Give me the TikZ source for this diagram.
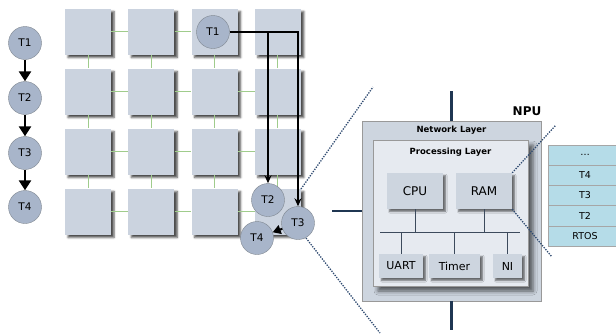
\documentclass[tikz,border=0pt]{standalone}
\usepackage{fontspec}
\setmainfont{DejaVu Sans}
\usetikzlibrary{arrows.meta,shadows.blur,positioning}
\definecolor{tilefill}{HTML}{CBD3DF}
\definecolor{taskfill}{HTML}{A8B5CA}
\definecolor{taskedge}{HTML}{7E8690}
\definecolor{linkgreen}{HTML}{A0CC8C}
\definecolor{navy}{HTML}{1F3652}
\definecolor{dotblue}{HTML}{2E4A70}
\definecolor{netfill}{HTML}{CDD5DF}
\definecolor{procfill}{HTML}{E6EAF0}
\definecolor{memfill}{HTML}{B5DCE8}
\definecolor{busline}{HTML}{3C4A5C}
\tikzset{%
  tile/.style={fill=tilefill, minimum size=46pt, inner sep=0pt,
    blur shadow={shadow xshift=3pt, shadow yshift=-3pt, shadow blur radius=2pt, shadow opacity=70}},
  link/.style={linkgreen, line width=1pt},
  task/.style={circle, draw=taskedge, fill=taskfill, minimum size=33pt, inner sep=0pt,
    font=\fontsize{10.5}{12}\selectfont},
  chain/.style={line width=2.8pt, -{Triangle[length=10pt,width=12pt]}},
  route/.style={line width=1.4pt, -{Stealth[length=8pt,width=7pt]}},
  zoomline/.style={dotblue, line width=1.3pt, dash pattern=on 1.3pt off 1.3pt},
  trunk/.style={navy, line width=2.8pt},
  unit/.style={fill=netfill, inner sep=0pt,
    blur shadow={shadow xshift=2.5pt, shadow yshift=-2.5pt, shadow blur radius=1.5pt, shadow opacity=55}},
  bus/.style={draw=busline, line width=0.9pt},
  memrow/.style={draw=gray!70, fill=memfill, minimum width=74pt, minimum height=20.2pt,
    inner sep=0pt, font=\fontsize{9.5}{11}\selectfont}
}

\begin{document}
\begin{tikzpicture}[x=1pt, y=-1pt]
  \useasboundingbox (0,0) rectangle (616,335);

  \foreach \i in {0,...,3}
    \foreach \j in {0,...,3}
      \node[tile] (sq-\i-\j) at ({88+63.3*\i},{31.5+60*\j}) {};
  \foreach \i [evaluate=\i as \k using int(\i+1)] in {0,1,2}
    \foreach \j in {0,...,3} {
      \draw[link] (sq-\i-\j.east) -- (sq-\k-\j.west);
      \draw[link] (sq-\j-\i.south) -- (sq-\j-\k.north);
    }

  \node[task] (c1) at (25,43) {T1};
  \node[task] (c2) at (25,98) {T2};
  \node[task] (c3) at (25,153) {T3};
  \node[task] (c4) at (25,207) {T4};
  \draw[chain] (c1) -- (c2);
  \draw[chain] (c2) -- (c3);
  \draw[chain] (c3) -- (c4);

  \coordinate (za) at (301,189);
  \coordinate (zb) at (373,87);
  \coordinate (zc) at (306,238);
  \coordinate (zd) at (380,333);
  \draw[zoomline] (za) -- (zb);
  \draw[zoomline] (zc) -- (zd);

  \node[task] (g1) at (213,32) {T1};
  \node[task] (g2) at (268,200) {T2};
  \node[task] (g3) at (298,223) {T3};
  \node[task] (g4) at (257,238) {T4};
  \draw[route] (g1.east) -| (g2.north);
  \draw[route] (g1.east) -| (g3.north);
  \draw[chain, line width=2pt, -{Triangle[length=8pt,width=9pt]}] (g3) -- (g4);

  \node[draw=gray!80, fill=netfill, minimum width=179pt, minimum height=180pt, inner sep=0pt] (nl) at (451.5,211) {};
  \node[font=\fontsize{8.5}{10}\bfseries] (nltitle) at (451.5,130) {Network Layer};
  \node[font=\fontsize{12}{14}\bfseries] (npu) at (527,111) {NPU};
  \coordinate (nu) at (451.5,91);
  \coordinate (nd) at (451.5,330);
  \coordinate (nw) at (332,211);
  \draw[trunk] (nl.north) -- (nu);
  \draw[trunk] (nl.south) -- (nd);
  \draw[trunk] (nl.west) -- (nw);

  \node[draw=gray!80, fill=procfill, minimum width=155pt, minimum height=146pt, inner sep=0pt,
    blur shadow={shadow xshift=5pt, shadow yshift=-5pt, shadow blur radius=4pt, shadow opacity=60}] (pl) at (450.5,213) {};
  \node[font=\fontsize{8.5}{10}\bfseries] (pltitle) at (450.5,152) {Processing Layer};

  \node[unit, minimum width=56pt, minimum height=36pt, font=\fontsize{12}{14}\selectfont] (cpu) at (415,191) {CPU};
  \node[unit, minimum width=56pt, minimum height=36pt, font=\fontsize{12}{14}\selectfont] (ram) at (484,191) {RAM};
  \node[unit, minimum width=44pt, minimum height=24pt, font=\fontsize{11}{13}\selectfont] (uart) at (401,266) {UART};
  \node[unit, minimum width=51pt, minimum height=24pt, font=\fontsize{11}{13}\selectfont] (timer) at (454.5,266) {Timer};
  \node[unit, minimum width=29pt, minimum height=24pt, font=\fontsize{11}{13}\selectfont] (ni) at (507.5,266) {NI};

  \coordinate (busl) at (380,232);
  \coordinate (busr) at (520,232);
  \draw[bus] (busl) -- (busr);
  \draw[bus] (cpu.south) -- (cpu.south |- busl);
  \draw[bus] (ram.south) -- (ram.south |- busl);
  \draw[bus] (uart.north) -- (uart.north |- busl);
  \draw[bus] (timer.north) -- (timer.north |- busl);
  \draw[bus] (ni.north) -- (ni.north |- busl);

  \foreach \t [count=\k] in {\ldots, T4, T3, T2, RTOS}
    \node[memrow] (mem-\k) at (585,{145+20.2*\k-10.1}) {\t};

  \coordinate (ma) at (556,125);
  \coordinate (mb) at (552,257);
  \draw[zoomline] (ram.north east) -- (ma);
  \draw[zoomline] (ram.south east) -- (mb);
\end{tikzpicture}
\end{document}
